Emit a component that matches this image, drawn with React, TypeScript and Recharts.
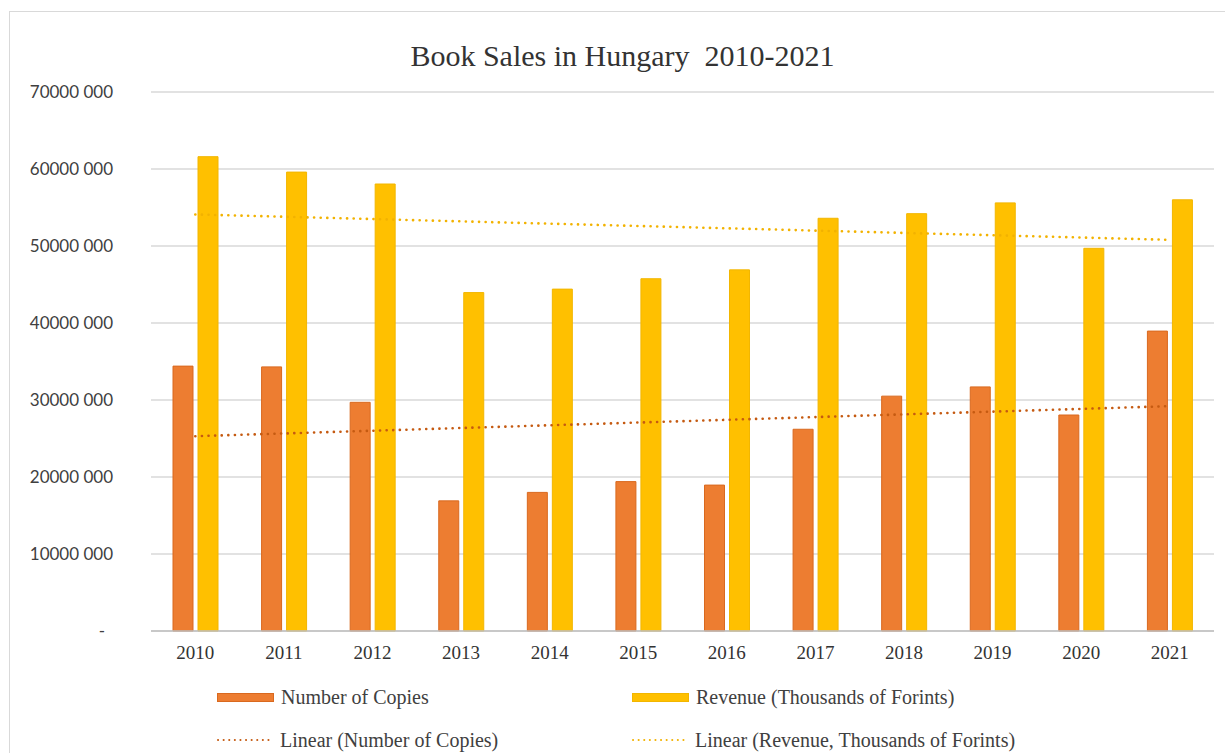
import React from "react";
import { Bar, CartesianGrid, ComposedChart, Legend, Line, XAxis, YAxis } from "recharts";

const years = ["2010", "2011", "2012", "2013", "2014", "2015", "2016", "2017", "2018", "2019", "2020", "2021"];
const copies = [34400000, 34300000, 29700000, 16900000, 18000000, 19400000, 18950000, 26200000, 30500000, 31700000, 28050000, 38950000];
const revenue = [61600000, 59600000, 58050000, 43950000, 44400000, 45750000, 46900000, 53600000, 54200000, 55600000, 49700000, 56000000];
// Excel linear trendlines, end points (2010 and 2021)
const trendCopies = [25300000, null, null, null, null, null, null, null, null, null, null, 29200000];
const trendRevenue = [54100000, null, null, null, null, null, null, null, null, null, null, 50800000];
const yTicks = [0, 10000000, 20000000, 30000000, 40000000, 50000000, 60000000, 70000000];
const legendOrder = [
  "Number of Copies",
  "Revenue (Thousands of Forints)",
  "Linear (Number of Copies)",
  "Linear (Revenue, Thousands of Forints)",
];

const ORANGE = "#ED7D31";
const YELLOW = "#FFC000";
const SERIF = "'Liberation Serif', 'Times New Roman', serif";

const data = years.map((year, i) => ({
  year,
  copies: copies[i],
  revenue: revenue[i],
  trendCopies: trendCopies[i],
  trendRevenue: trendRevenue[i],
}));

function YTick({ y, payload }: any) {
  const v = payload.value as number;
  const label = v === 0 ? "-" : `${v / 1000} 000`;
  return (
    <text
      x={v === 0 ? 105 : 113}
      y={y}
      dy="0.36em"
      textAnchor="end"
      fill="#404040"
      fontFamily="Lato, sans-serif"
      fontSize={17}
    >
      {label}
    </text>
  );
}

function LegendContent({ payload }: any) {
  const items = [...(payload ?? [])].sort(
    (a: any, b: any) => legendOrder.indexOf(a.value) - legendOrder.indexOf(b.value)
  );
  return (
    <div style={{ position: "relative", width: 1225, height: 78 }}>
      {items.map((item: any, i: number) => {
        const col = i % 2;
        const row = Math.floor(i / 2);
        const left = col === 0 ? 217 : 632;
        const top = row === 0 ? 10 : 53;
        const isLine = item.type === "line";
        return (
          <div
            key={item.value}
            style={{ position: "absolute", left, top, height: 24, display: "flex", alignItems: "center" }}
          >
            {isLine ? (
              <svg width={56} height={6} style={{ marginRight: 7 }}>
                <line
                  x1={1}
                  y1={3}
                  x2={54}
                  y2={3}
                  stroke={item.color}
                  strokeWidth={2}
                  strokeDasharray="0.1 5.5"
                  strokeLinecap="round"
                />
              </svg>
            ) : (
              <div
                style={{
                  width: 55,
                  height: 7,
                  background: item.color,
                  border: `1px solid ${col === 0 ? "#D9691F" : "#F2B600"}`,
                  marginRight: 7,
                }}
              />
            )}
            <span style={{ fontFamily: SERIF, fontSize: 20, color: "#404040", whiteSpace: "nowrap" }}>
              {item.value}
            </span>
          </div>
        );
      })}
    </div>
  );
}

export default function App() {
  return (
    <div style={{ position: "absolute", left: 0, top: 0, width: 1225, height: 753, overflow: "hidden", background: "#fff" }}>
      <div
        style={{
          position: "absolute",
          left: 9,
          top: 11,
          width: 1260,
          height: 800,
          border: "1.5px solid #d9d9d9",
        }}
      />
      <div
        style={{
          position: "absolute",
          left: 0,
          top: 41,
          width: 1245,
          textAlign: "center",
          fontFamily: SERIF,
          fontSize: 30,
          lineHeight: "30px",
          color: "#333",
        }}
      >
        Book Sales in Hungary&nbsp; 2010-2021
      </div>
      <div style={{ position: "absolute", left: 0, top: 0 }}>
        <ComposedChart
          width={1225}
          height={753}
          data={data}
          margin={{ top: 92, right: 11, left: 0, bottom: 4 }}
          barGap={5}
          barSize={20}
        >
          <CartesianGrid vertical={false} stroke="#d9d9d9" strokeWidth={1.5} />
          <XAxis
            dataKey="year"
            axisLine={{ stroke: "#bfbfbf", strokeWidth: 1.5 }}
            tickLine={false}
            tickMargin={9}
            height={40}
            tick={{ fill: "#333", fontFamily: SERIF, fontSize: 19 }}
          />
          <YAxis
            width={151}
            domain={[0, 70000000]}
            ticks={yTicks}
            axisLine={false}
            tickLine={false}
            tick={<YTick />}
          />
          <Legend
            verticalAlign="bottom"
            height={78}
            content={<LegendContent />}
            wrapperStyle={{ position: "absolute", left: 0, top: 675, width: 1225, height: 78 }}
          />
          <Bar
            dataKey="copies"
            name="Number of Copies"
            fill={ORANGE}
            stroke="#D9691F"
            strokeWidth={1}
            isAnimationActive={false}
          />
          <Bar
            dataKey="revenue"
            name="Revenue (Thousands of Forints)"
            fill={YELLOW}
            stroke="#F2B600"
            strokeWidth={1}
            isAnimationActive={false}
          />
          <Line
            dataKey="trendCopies"
            name="Linear (Number of Copies)"
            type="linear"
            connectNulls
            dot={false}
            activeDot={false}
            stroke="#C55A11"
            strokeWidth={2.6}
            strokeDasharray="0.1 6.5"
            strokeLinecap="round"
            legendType="line"
            isAnimationActive={false}
          />
          <Line
            dataKey="trendRevenue"
            name="Linear (Revenue, Thousands of Forints)"
            type="linear"
            connectNulls
            dot={false}
            activeDot={false}
            stroke="#F2B200"
            strokeWidth={2.6}
            strokeDasharray="0.1 6.5"
            strokeLinecap="round"
            legendType="line"
            isAnimationActive={false}
          />
        </ComposedChart>
      </div>
    </div>
  );
}
